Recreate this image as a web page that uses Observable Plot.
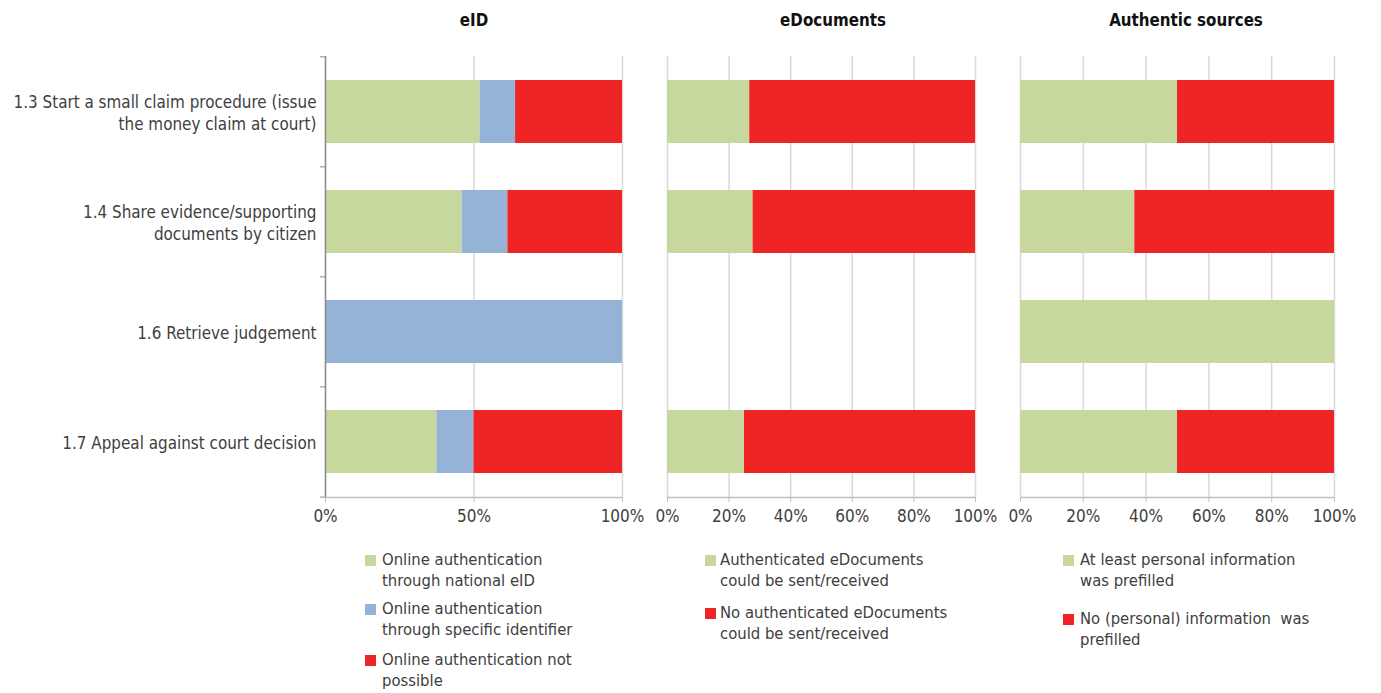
<!DOCTYPE html>
<html><head><meta charset="utf-8">
<script src="https://cdn.jsdelivr.net/npm/d3@7"></script>
<script src="https://cdn.jsdelivr.net/npm/@observablehq/plot@0.6"></script>
<style>
body{margin:0;background:#fff;}
#chart{position:relative;width:1381px;height:693px;font-family:"DejaVu Sans Condensed","Liberation Sans",sans-serif;color:#404040;}
.panel{position:absolute;top:0;}
.title{position:absolute;top:10px;font-weight:bold;font-size:16.8px;color:#111;transform:translateX(-50%);white-space:nowrap;}
.leg{position:absolute;font-size:16.5px;line-height:21px;white-space:pre;}
.sw{position:absolute;width:11px;height:11px;}
</style></head><body><div id="chart"></div>
<script>
// Categories (y axis)
const categories = [
  "1.3 Start a small claim procedure (issue\nthe money claim at court)",
  "1.4 Share evidence/supporting\ndocuments by citizen",
  "1.6 Retrieve judgement",
  "1.7 Appeal against court decision"
];

// Panel titles
const titles = ["eID", "eDocuments", "Authentic sources"];

// eID panel (%)
const eidSeries = ["Online authentication\nthrough national eID", "Online authentication\nthrough specific identifier", "Online authentication not\npossible"];
const eidNational = [52, 46, 0, 37.5];
const eidSpecific = [12, 15.4, 100, 12.5];
const eidNotPossible = [36, 38.6, 0, 50];

// eDocuments panel (%)
const edocSeries = ["Authenticated eDocuments\ncould be sent/received", "No authenticated eDocuments\ncould be sent/received"];
const edocYes = [26.7, 27.8, null, 25];
const edocNo = [73.3, 72.2, null, 75];

// Authentic sources panel (%)
const authSeries = ["At least personal information\nwas prefilled", "No (personal) information  was\nprefilled"];
const authYes = [50, 36.4, 100, 50];
const authNo = [50, 63.6, 0, 50];

// Tick values
const eidTicks = [0, 50, 100];
const pctTicks = [0, 20, 40, 60, 80, 100];

const GREEN = "#c6d89e", BLUE = "#95b3d7", RED = "#ee2425";
const FONT = '"DejaVu Sans Condensed","Liberation Sans",sans-serif';

function toRows(series, values) {
  return categories.flatMap((c, i) => series.map((s, j) => ({category: c, series: s, value: values[j][i]})))
    .filter(d => d.value != null && d.value > 0);
}

const H = 540, MT = 56, MB = 43;
const step = (H - MT - MB) / categories.length;

function panel({rows, series, colors, width, marginLeft, marginRight, ticks, labels}) {
  const marks = [
    Plot.gridX({ticks, stroke: "#d9d9d9", strokeOpacity: 1, strokeWidth: 1.5}),
    Plot.barX(rows, {x: "value", y: "category", fill: "series"}),
    Plot.frame({anchor: "bottom", stroke: "#c0c0c0", strokeWidth: 1.5}),
    Plot.axisX({ticks, tickSize: 5, tickPadding: 7, tickFormat: d => d + "%", stroke: "#c0c0c0", fontSize: 17, label: null})
  ];
  if (labels) {
    marks.push(
      Plot.ruleX([0], {stroke: "#8c8c8c", strokeWidth: 1.5}),
      Plot.axisY({ticks: categories, text: null, tickSize: 5, dy: -step / 2, stroke: "#8c8c8c", label: null}),
      Plot.axisY({ticks: [categories[categories.length - 1]], text: null, tickSize: 5, dy: step / 2, stroke: "#8c8c8c", label: null}),
      Plot.axisY({tickSize: 0, tickPadding: 9, lineHeight: 1.28, fontSize: 16.9, label: null})
    );
  }
  return Plot.plot({
    width, height: H, marginTop: MT, marginBottom: MB, marginLeft, marginRight,
    style: {fontFamily: FONT, fontSize: "17px", color: "#404040", background: "transparent", overflow: "visible"},
    x: {domain: [0, 100], label: null},
    y: {domain: categories, paddingInner: 0.43, paddingOuter: 0.215, label: null, axis: labels ? undefined : null},
    color: {domain: series, range: colors},
    marks
  });
}

const chart = document.getElementById("chart");
function place(el, left) { el.classList.add("panel"); el.style.left = left + "px"; chart.appendChild(el); }

place(panel({rows: toRows(eidSeries, [eidNational, eidSpecific, eidNotPossible]), series: eidSeries, colors: [GREEN, BLUE, RED],
  width: 645, marginLeft: 325, marginRight: 23, ticks: eidTicks, labels: true}), 0);
place(panel({rows: toRows(edocSeries, [edocYes, edocNo]), series: edocSeries, colors: [GREEN, RED],
  width: 360, marginLeft: 22, marginRight: 30, ticks: pctTicks, labels: false}), 645);
place(panel({rows: toRows(authSeries, [authYes, authNo]), series: authSeries, colors: [GREEN, RED],
  width: 376, marginLeft: 15, marginRight: 47, ticks: pctTicks, labels: false}), 1005);

// Titles
[[titles[0], 474], [titles[1], 833], [titles[2], 1186]].forEach(([t, x]) => {
  const d = document.createElement("div"); d.className = "title"; d.textContent = t; d.style.left = x + "px"; chart.appendChild(d);
});

// Legends
function legend(series, colors, swX, textX, centers) {
  series.forEach((s, i) => {
    const sw = document.createElement("div"); sw.className = "sw";
    sw.style.background = colors[i]; sw.style.left = swX + "px"; sw.style.top = (centers[i] - 5.5) + "px";
    chart.appendChild(sw);
    const t = document.createElement("div"); t.className = "leg"; t.textContent = s;
    t.style.left = textX + "px"; t.style.top = (centers[i] - 11) + "px";
    chart.appendChild(t);
  });
}
legend(eidSeries, [GREEN, BLUE, RED], 365, 382, [560, 609, 660]);
legend(edocSeries, [GREEN, RED], 705, 720, [560, 613]);
legend(authSeries, [GREEN, RED], 1063, 1080, [560, 619]);
</script></body></html>
